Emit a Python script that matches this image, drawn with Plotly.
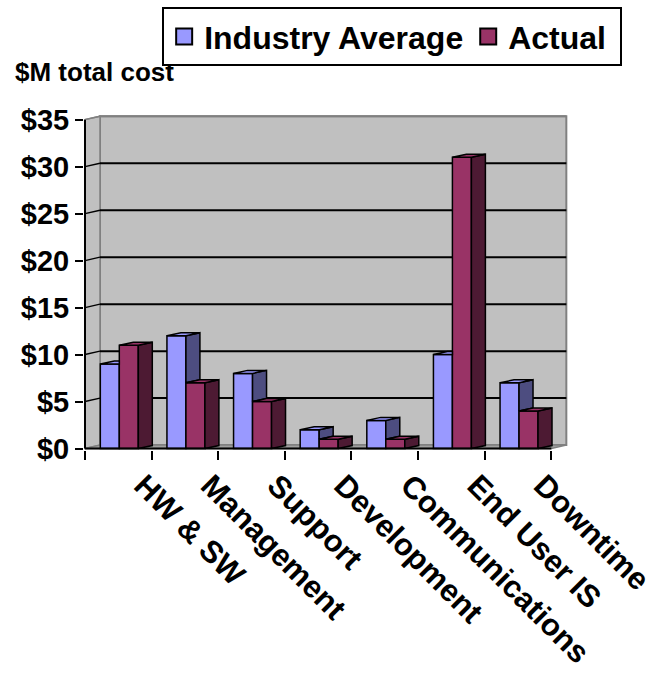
import plotly.graph_objects as go

categories = ["HW & SW", "Management", "Support", "Development",
              "Communications", "End User IS", "Downtime"]
industry_avg = [9, 12, 8, 2, 3, 10, 7]
actual = [11, 7, 5, 1, 1, 31, 4]
y_tickvals = [0, 5, 10, 15, 20, 25, 30, 35]
y_ticktext = ["$0", "$5", "$10", "$15", "$20", "$25", "$30", "$35"]

# geometry (data units)
XR = [-0.515, 6.75]
YR = [-0.15, 35.6]
YMAX = 35
BAR_W = 0.285
SHIFT = 0.015
BDX, BDY = 0.21, 0.32      # bar depth offset
WDX, WDY = 0.225, 0.37     # wall depth offset

IND_FRONT, IND_SIDE, IND_TOP = "#9999FF", "#4D4D80", "#9999FF"
ACT_FRONT, ACT_SIDE, ACT_TOP = "#993366", "#4D1A33", "#993366"
WALL, WALL_EDGE = "#C0C0C0", "#808080"
FONT = "Liberation Sans, Arial, sans-serif"

n = len(categories)
idx = list(range(n))

fig = go.Figure()

# front faces as bars
ind_x = [i - BAR_W / 2 + SHIFT for i in idx]
act_x = [i + BAR_W / 2 + SHIFT for i in idx]
fig.add_trace(go.Bar(x=ind_x, y=industry_avg, width=BAR_W, name="Industry Average",
                     marker=dict(color=IND_FRONT, line=dict(color="black", width=1.5)),
                     showlegend=False, hoverinfo="skip"))
fig.add_trace(go.Bar(x=act_x, y=actual, width=BAR_W, name="Actual",
                     marker=dict(color=ACT_FRONT, line=dict(color="black", width=1.5)),
                     showlegend=False, hoverinfo="skip"))


def poly_trace(xs, ys, color):
    return go.Scatter(x=xs, y=ys, mode="lines", fill="toself", fillcolor=color,
                      line=dict(color="black", width=1.5), showlegend=False,
                      hoverinfo="skip")


# industry side (only part visible above the actual bar) and top
sx, sy, tx, ty = [], [], [], []
for i, v, a in zip(idx, industry_avg, actual):
    l = ind_x[i] - BAR_W / 2
    r = ind_x[i] + BAR_W / 2
    if v > a:
        sx += [r, r + BDX, r + BDX, r, r, None]
        sy += [a, a + BDY, v + BDY, v, a, None]
        tx += [l, r, r + BDX, l + BDX, l, None]
        ty += [v, v, v + BDY, v + BDY, v, None]
    else:
        tx += [l, r, r, l + BDX, l, None]
        ty += [v, v, v + BDY, v + BDY, v, None]
fig.add_trace(poly_trace(sx, sy, IND_SIDE))
fig.add_trace(poly_trace(tx, ty, IND_TOP))

# actual side and top
sx, sy, tx, ty = [], [], [], []
for i, a in zip(idx, actual):
    l = act_x[i] - BAR_W / 2
    r = act_x[i] + BAR_W / 2
    sx += [r, r + BDX, r + BDX, r, r, None]
    sy += [0, BDY, a + BDY, a, 0, None]
    tx += [l, r, r + BDX, l + BDX, l, None]
    ty += [a, a, a + BDY, a + BDY, a, None]
fig.add_trace(poly_trace(sx, sy, ACT_SIDE))
fig.add_trace(poly_trace(tx, ty, ACT_TOP))

# legend entries
for nm, col in [("Industry Average", IND_FRONT), ("Actual\u00a0", ACT_FRONT)]:
    fig.add_trace(go.Scatter(x=[None], y=[None], mode="markers", name=nm,
                             marker=dict(symbol="square", size=16, color=col,
                                         line=dict(color="black", width=2))))

# walls, floor, gridlines
x0, x1 = -0.5, n - 0.5
shapes = []
shapes.append(dict(type="rect", xref="x", yref="y", x0=x0 + WDX, x1=x1 + WDX,
                   y0=WDY, y1=YMAX + WDY, fillcolor=WALL,
                   line=dict(color=WALL_EDGE, width=2), layer="below"))
shapes.append(dict(type="path", xref="x", yref="y",
                   path=f"M{x0},0 L{x0 + WDX},{WDY} L{x0 + WDX},{YMAX + WDY} L{x0},{YMAX} Z",
                   fillcolor=WALL, line=dict(color=WALL_EDGE, width=1.5), layer="below"))
shapes.append(dict(type="path", xref="x", yref="y",
                   path=f"M{x0},0 L{x1},0 L{x1 + WDX},{WDY} L{x0 + WDX},{WDY} Z",
                   fillcolor="#A0A0A0", line=dict(color=WALL_EDGE, width=1.5), layer="below"))
for v in y_tickvals[1:]:
    col = "black" if v < YMAX else WALL_EDGE
    shapes.append(dict(type="line", xref="x", yref="y", x0=x0 + WDX, x1=x1 + WDX,
                       y0=v + WDY, y1=v + WDY, line=dict(color=col, width=2), layer="below"))
    shapes.append(dict(type="line", xref="x", yref="y", x0=x0, x1=x0 + WDX,
                       y0=v, y1=v + WDY, line=dict(color=col, width=1.5), layer="below"))
# front axes
shapes.append(dict(type="line", xref="x", yref="y", x0=x0, x1=x0, y0=0, y1=YMAX,
                   line=dict(color="black", width=2)))
shapes.append(dict(type="line", xref="x", yref="y", x0=x0, x1=x1, y0=0, y1=0,
                   line=dict(color="black", width=2)))

fig.update_layout(
    width=647, height=675,
    margin=dict(l=84, r=79, t=114, b=225, autoexpand=False),
    paper_bgcolor="white", plot_bgcolor="white",
    barmode="overlay",
    shapes=shapes,
    font=dict(family=FONT, color="black"),
    showlegend=True,
    legend=dict(orientation="h", x=0.1615, y=1.318, xanchor="left", yanchor="top",
                bordercolor="black", borderwidth=2, bgcolor="white",
                font=dict(family=FONT, size=32, weight="bold", color="black")),
    annotations=[dict(text="$M total cost", xref="paper", yref="paper",
                      x=-0.147, y=1.176, xanchor="left", yanchor="top",
                      showarrow=False,
                      font=dict(family=FONT, size=26, weight="bold", color="black"))],
    xaxis=dict(range=XR, showgrid=False, zeroline=False, showline=False,
               tickmode="array", tickvals=idx, ticktext=categories,
               ticks="", tickangle=45, ticklabelshift=25, ticklabelstandoff=10,
               ticklabeloverflow="allow",
               tickfont=dict(family=FONT, size=31, weight="bold", color="black"),
               minor=dict(tickmode="array", tickvals=[i - 0.5 for i in range(n + 1)],
                          ticks="outside", ticklen=9, tickwidth=1.5, tickcolor="black",
                          showgrid=False)),
    yaxis=dict(range=YR, showgrid=False, zeroline=False, showline=False,
               tickmode="array", tickvals=y_tickvals, ticktext=y_ticktext,
               ticks="outside", ticklen=8, tickwidth=1.5, tickcolor="black",
               tickfont=dict(family=FONT, size=29, weight="bold", color="black")),
)

fig.write_html("out.html", config={"displayModeBar": False},
               post_script="document.body.style.margin='0';document.body.style.overflow='hidden';")
